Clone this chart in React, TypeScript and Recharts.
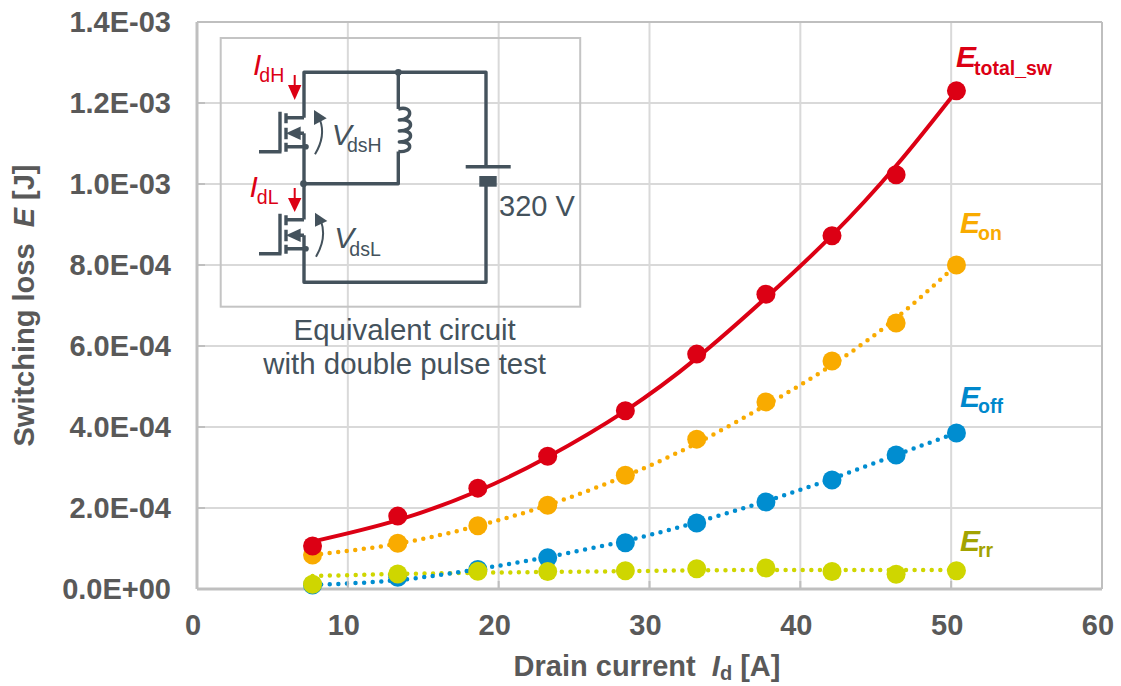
import React from 'react';
import { LineChart, Line, XAxis, YAxis, CartesianGrid, ReferenceLine } from 'recharts';

const drainCurrent = [7.66, 13.31, 18.62, 23.25, 28.4, 33.13, 37.72, 42.1, 46.35, 50.35];

const eTotal = [1.06e-4, 1.8e-4, 2.49e-4, 3.28e-4, 4.4e-4, 5.8e-4, 7.28e-4, 8.72e-4, 1.023e-3, 1.23e-3];
const eOn = [8.4e-5, 1.13e-4, 1.56e-4, 2.07e-4, 2.81e-4, 3.7e-4, 4.62e-4, 5.63e-4, 6.57e-4, 8.0e-4];
const eOff = [1.0e-5, 2.9e-5, 4.8e-5, 7.7e-5, 1.14e-4, 1.63e-4, 2.15e-4, 2.69e-4, 3.31e-4, 3.85e-4];
const eRr = [1.16e-5, 3.7e-5, 4.4e-5, 4.3e-5, 4.5e-5, 5.0e-5, 5.2e-5, 4.3e-5, 3.63e-5, 4.5e-5];

// fitted trend lines, they don't go exactly through the markers
const eTotalFit = [1.17e-4, 1.7e-4, 2.42e-4, 3.26e-4, 4.4e-4, 5.7e-4, 7.19e-4, 8.73e-4, 1.045e-3, 1.23e-3];
const eOnFit = [8.4e-5, 1.12e-4, 1.56e-4, 2.07e-4, 2.79e-4, 3.6e-4, 4.54e-4, 5.53e-4, 6.69e-4, 8.0e-4];
const eOffFit = [1.0e-5, 2.2e-5, 4.9e-5, 7.9e-5, 1.19e-4, 1.65e-4, 2.17e-4, 2.72e-4, 3.31e-4, 3.85e-4];
const eRrFit = [3.2e-5, 3.7e-5, 4.0e-5, 4.2e-5, 4.4e-5, 4.6e-5, 4.7e-5, 4.7e-5, 4.7e-5, 4.7e-5];

const xTicks = [0, 10, 20, 30, 40, 50, 60];
const yTicks = [0, 2e-4, 4e-4, 6e-4, 8e-4, 1e-3, 1.2e-3, 1.4e-3];
const yTickLabels = ['0.0E+00', '2.0E-04', '4.0E-04', '6.0E-04', '8.0E-04', '1.0E-03', '1.2E-03', '1.4E-03'];

const chartData = drainCurrent.map((x, i) => ({
  x,
  eTotal: eTotal[i],
  eOn: eOn[i],
  eOff: eOff[i],
  eRr: eRr[i],
  eTotalFit: eTotalFit[i],
  eOnFit: eOnFit[i],
  eOffFit: eOffFit[i],
  eRrFit: eRrFit[i],
}));

const RED = '#dc0014';
const ORANGE = '#f9ab00';
const BLUE = '#008dd0';
const LIME = '#cfd600';
const GREY = '#595959';
const WIRE = '#44525c';
const AXIS = '#bfbfbf';
const FONT = '"Liberation Sans", Arial, sans-serif';

const tickStyle = { fontFamily: FONT, fontSize: 29, fontWeight: 700, fill: GREY };

function markerDot(color: string) {
  return { r: 9.5, fill: color, stroke: color, strokeWidth: 0 };
}

function Mosfet({ dy }: { dy: number }) {
  return (
    <g transform={`translate(0 ${dy})`} stroke={WIRE} strokeWidth={3.4} fill="none">
      <path d="M259 151.7H281.5M280 111.7V151.7" />
      <path d="M286 113.3V123.3M286 127.7V139.3M286 142.7V151.7" />
      <path d="M286 117.7H304M294 133.3H304M286 146.7H304" />
      <path d="M286 133.3L300.700 126.500V140Z" fill={WIRE} stroke="none" />
      <circle cx={306} cy={146.7} r={2.8} fill={WIRE} stroke="none" />
    </g>
  );
}

function SubLabel({ x, y, main, sub, color, dx, dy }: { x: number; y: number; main: string; sub: string; color: string; dx: number; dy: number }) {
  return (
    <text x={x} y={y} fill={color} fontSize={30}>
      <tspan fontStyle="italic">{main}</tspan>
      <tspan fontSize={19.5} dx={dx} dy={dy}>{sub}</tspan>
    </text>
  );
}

function Circuit() {
  return (
    <g>
      <rect x={220.7} y={38} width={359.5} height={268.7} fill="none" stroke="#c4c4c4" strokeWidth={2} />
      <g stroke={WIRE} strokeWidth={3.4} fill="none" strokeLinejoin="round">
        <path d="M304 117.7V72.3H486V166" />
        <path d="M304 133.3V219.5" />
        <path d="M304 235.3V282.3H486V186" />
        <path d="M304 183.7H398.3V151.5" />
        <path d="M398.3 72.3V109" />
        <path d="M398.3 109c15 -4 15 11 1 11c15 -2 15 11 0 11c15 -2 15 11 0 11c15 -1 13 11 -1 9.500" />
        <path d="M465.7 166.700H510.700" />
      </g>
      <rect x={479.3} y={176} width={17.4} height={10.7} fill={WIRE} />
      <circle cx={398.3} cy={72.3} r={3.4} fill={WIRE} />
      <circle cx={303.5} cy={183.7} r={3.4} fill={WIRE} />
      <Mosfet dy={0} />
      <Mosfet dy={102} />

      <path d="M294.700 75V87" stroke={RED} strokeWidth={2} />
      <path d="M288 85H301.400L294.700 100Z" fill={RED} />
      <path d="M294.700 188V200" stroke={RED} strokeWidth={2} />
      <path d="M288 198H301.400L294.700 212Z" fill={RED} />

      <path d="M315 154.300Q326 136 320 120" stroke={WIRE} strokeWidth={2} fill="none" />
      <path d="M314 110L326.700 118.300L314 125Z" fill={WIRE} />
      <path d="M316 256.700Q327 238 321 221" stroke={WIRE} strokeWidth={2} fill="none" />
      <path d="M315 212.700L327.300 221L315 226.700Z" fill={WIRE} />

      <g fontFamily={FONT}>
        <SubLabel x={253} y={75} main="I" sub="dH" color={RED} dx={-2} dy={6.7} />
        <SubLabel x={249.500} y={196.700} main="I" sub="dL" color={RED} dx={-1} dy={7.3} />
        <SubLabel x={331.700} y={145} main="V" sub="dsH" color={WIRE} dx={-4.7} dy={7.3} />
        <SubLabel x={334.300} y={247.700} main="V" sub="dsL" color={WIRE} dx={-5} dy={8} />
        <text x={499} y={216} fill={WIRE} fontSize={29}>320 V</text>
        <text x={404.700} y={340} fill={WIRE} fontSize={29.4} textAnchor="middle">Equivalent circuit</text>
        <text x={404.700} y={374} fill={WIRE} fontSize={29.4} textAnchor="middle">with double pulse test</text>
      </g>
    </g>
  );
}

function SeriesLabel({ x, y, sub, color, dy }: { x: number; y: number; sub: string; color: string; dy: number }) {
  return (
    <text x={x} y={y} fontFamily={FONT} fontWeight={700} fill={color}>
      <tspan fontSize={30} fontStyle="italic">E</tspan>
      <tspan fontSize={19.5} dx={-2} dy={dy}>{sub}</tspan>
    </text>
  );
}

export default function App() {
  return (
    <div style={{ position: 'absolute', left: 0, top: 0, width: 1121, height: 686 }}>
      <LineChart width={1121} height={686} data={chartData} margin={{ top: 22, right: 19, bottom: 0, left: 0 }}>
        <CartesianGrid stroke="#d9d9d9" strokeWidth={2} />
        <ReferenceLine y={1.4e-3} stroke={AXIS} strokeWidth={2} />
        <ReferenceLine x={60} stroke={AXIS} strokeWidth={2} />
        <XAxis
          dataKey="x"
          type="number"
          domain={[0, 60]}
          ticks={xTicks}
          height={97}
          interval={0}
          axisLine={{ stroke: AXIS, strokeWidth: 3 }}
          tickLine={{ stroke: AXIS, strokeWidth: 2 }}
          tickSize={-8}
          tickMargin={33}
          tick={{ ...tickStyle, dx: -4 }}
        />
        <YAxis
          type="number"
          domain={[0, 1.4e-3]}
          ticks={yTicks}
          width={197}
          interval={0}
          axisLine={{ stroke: AXIS, strokeWidth: 3 }}
          tickLine={{ stroke: AXIS, strokeWidth: 2 }}
          tickSize={-8}
          tickMargin={34}
          tick={tickStyle}
          tickFormatter={(v: number) => yTickLabels[yTicks.indexOf(v)]}
        />
        <Line dataKey="eOff" stroke="none" dot={markerDot(BLUE)} isAnimationActive={false} />
        <Line dataKey="eOn" stroke="none" dot={markerDot(ORANGE)} isAnimationActive={false} />
        <Line dataKey="eTotal" stroke="none" dot={markerDot(RED)} isAnimationActive={false} />
        <Line dataKey="eRr" stroke="none" dot={markerDot(LIME)} isAnimationActive={false} />
        <Line dataKey="eTotalFit" type="natural" stroke={RED} strokeWidth={4} dot={false} isAnimationActive={false} />
        <Line dataKey="eOnFit" type="natural" stroke={ORANGE} strokeWidth={4.5} strokeDasharray="0 8.6" strokeLinecap="round" dot={false} isAnimationActive={false} />
        <Line dataKey="eRrFit" type="natural" stroke={LIME} strokeWidth={4.5} strokeDasharray="0 8.6" strokeLinecap="round" dot={false} isAnimationActive={false} />
        <Line dataKey="eOffFit" type="natural" stroke={BLUE} strokeWidth={4.5} strokeDasharray="0 8.6" strokeLinecap="round" dot={false} isAnimationActive={false} />
      </LineChart>
      <svg width={1121} height={686} style={{ position: 'absolute', left: 0, top: 0, pointerEvents: 'none' }}>
        <Circuit />
        <SeriesLabel x={956} y={66.7} sub="total_sw" color={RED} dy={8.3} />
        <SeriesLabel x={960} y={233.3} sub="on" color={ORANGE} dy={6.7} />
        <SeriesLabel x={960} y={406.7} sub="off" color="#0088cc" dy={6} />
        <SeriesLabel x={960} y={550.7} sub="rr" color="#a3a300" dy={6.6} />
        <text
          fontFamily={FONT}
          fontWeight={700}
          fontSize={29}
          fill={GREY}
          textAnchor="middle"
          transform="translate(34 305.5) rotate(-90)"
        >
          Switching loss{'\u00a0\u00a0'}<tspan fontStyle="italic">E</tspan> [J]
        </text>
        <text x={647} y={676} fontFamily={FONT} fontWeight={700} fontSize={29} fill={GREY} textAnchor="middle">
          Drain current{'\u00a0\u00a0'}<tspan fontStyle="italic">I</tspan>
          <tspan dy={4} fontSize={20}>d</tspan>
          <tspan dy={-4}> [A]</tspan>
        </text>
      </svg>
    </div>
  );
}
